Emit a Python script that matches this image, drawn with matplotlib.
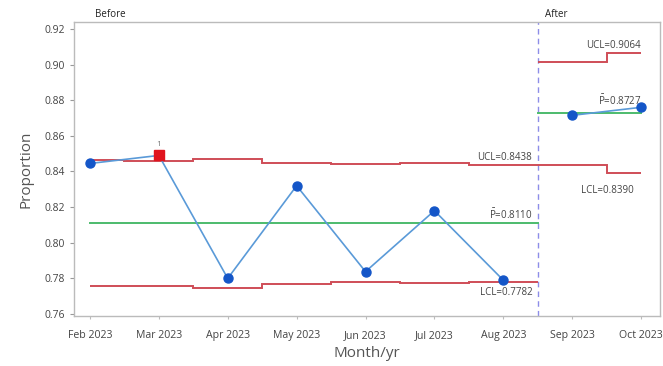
import matplotlib
matplotlib.use("Agg")
import matplotlib.pyplot as plt
import numpy as np

plt.rcParams['font.family'] = ['Open Sans', 'DejaVu Sans']
plt.rcParams['mathtext.fontset'] = 'dejavusans'

# Monthly proportions
months = ["Feb 2023", "Mar 2023", "Apr 2023", "May 2023", "Jun 2023",
          "Jul 2023", "Aug 2023", "Sep 2023", "Oct 2023"]
proportion = [0.8445, 0.8490, 0.7800, 0.8320, 0.7838, 0.8180, 0.7790, 0.8715, 0.8760]

# Phase 1 (Before): Feb-Aug, Phase 2 (After): Sep-Oct
n_before = 7
center_before = 0.8110
ucl_before = [0.8462, 0.8460, 0.8472, 0.8450, 0.8440, 0.8446, 0.8438]
lcl_before = [0.7758, 0.7760, 0.7748, 0.7770, 0.7780, 0.7774, 0.7782]
center_after = 0.8727
ucl_after = [0.9017, 0.9064]
lcl_after = [0.8437, 0.8390]

# Points flagged by test 1 (beyond control limits)
flagged = [1]

y_ticks = [0.76, 0.78, 0.80, 0.82, 0.84, 0.86, 0.88, 0.90, 0.92]

red = '#cf4d57'
green = '#4cbb6c'
blue_pt = '#1456c8'
blue_ln = '#5a9ad8'
txt = '#444444'

fig = plt.figure(figsize=(6.63, 3.66), dpi=100)
ax = fig.add_axes([0.1116, 0.1366, 0.884, 0.8034])

x = np.arange(len(months))
boundary = n_before - 0.5

# Step control limits per phase
edges_b = np.concatenate(([0], np.arange(0.5, n_before - 1, 1.0), [boundary]))
edges_a = np.array([boundary, n_before + 0.5, len(months) - 1])
for vals, edges in ((ucl_before, edges_b), (lcl_before, edges_b),
                    (ucl_after, edges_a), (lcl_after, edges_a)):
    ax.stairs(vals, edges, color=red, lw=1.4, baseline=None, zorder=2)

# Center lines
ax.plot([0, boundary], [center_before] * 2, color=green, lw=1.4, zorder=2)
ax.plot([boundary, len(months) - 1], [center_after] * 2, color=green, lw=1.4, zorder=2)

# Phase divider
ax.axvline(boundary, color='#8d8de8', lw=1.0, ls=(0, (4, 3)), zorder=1)

# Data lines (not connected across phases)
ax.plot(x[:n_before], proportion[:n_before], color=blue_ln, lw=1.2, zorder=3)
ax.plot(x[n_before:], proportion[n_before:], color=blue_ln, lw=1.2, zorder=3)
normal = [i for i in range(len(months)) if i not in flagged]
ax.plot(x[normal], np.array(proportion)[normal], 'o', color=blue_pt, ms=6.5, zorder=4)
ax.plot(x[flagged], np.array(proportion)[flagged], 's', color='#e0141e', ms=6.5, zorder=4)
for i in flagged:
    ax.annotate('1', (x[i], proportion[i]), xytext=(0, 5), textcoords='offset points',
                ha='center', va='bottom', fontsize=6, color='#777777')

# Limit labels
fs = 7
pbar = r"$\bar{\mathregular{P}}$"
ax.text(boundary - 0.08, ucl_before[-1] + 0.0008, f"UCL={ucl_before[-1]:.4f}",
        ha='right', va='bottom', fontsize=fs, color=txt)
ax.text(boundary - 0.08, center_before + 0.0008, f"{pbar}={center_before:.4f}",
        ha='right', va='bottom', fontsize=fs, color=txt)
ax.text(boundary - 0.08, lcl_before[-1] - 0.0030, f"LCL={lcl_before[-1]:.4f}",
        ha='right', va='top', fontsize=fs, color=txt)
ax.text(len(months) - 1, ucl_after[-1] + 0.0012, f"UCL={ucl_after[-1]:.4f}",
        ha='right', va='bottom', fontsize=fs, color=txt)
ax.text(len(months) - 1, center_after + 0.0030, f"{pbar}={center_after:.4f}",
        ha='right', va='bottom', fontsize=fs, color=txt)
ax.text(len(months) - 1.1, lcl_after[-1] - 0.0065, f"LCL={lcl_after[-1]:.4f}",
        ha='right', va='top', fontsize=fs, color=txt)

# Phase titles
ax.text(0.07, 1.005, "Before", transform=ax.get_xaxis_transform(),
        ha='left', va='bottom', fontsize=7, color='#222222')
ax.text(boundary + 0.1, 1.005, "After", transform=ax.get_xaxis_transform(),
        ha='left', va='bottom', fontsize=7, color='#222222')

ax.set_xlim(-0.232, 8.276)
ax.set_ylim(0.7589, 0.9239)
ax.set_xticks(x)
ax.set_xticklabels(months)
ax.set_yticks(y_ticks)
ax.set_yticklabels([f"{v:.2f}" for v in y_ticks])
ax.tick_params(axis='y', labelsize=7.5, colors='#999999', labelcolor=txt,
               length=3, width=0.8)
ax.tick_params(axis='x', labelsize=7.6, colors='#bbbbbb', labelcolor=txt,
               length=2, width=0.8, pad=8)
for s in ax.spines.values():
    s.set_color('#bbbbbb')
    s.set_linewidth(1.0)

ax.set_ylabel("Proportion", fontsize=11, color='#555555', labelpad=8)
ax.set_xlabel("Month/yr", fontsize=11, color='#555555', labelpad=4)

fig.savefig("out.png", dpi=100)
